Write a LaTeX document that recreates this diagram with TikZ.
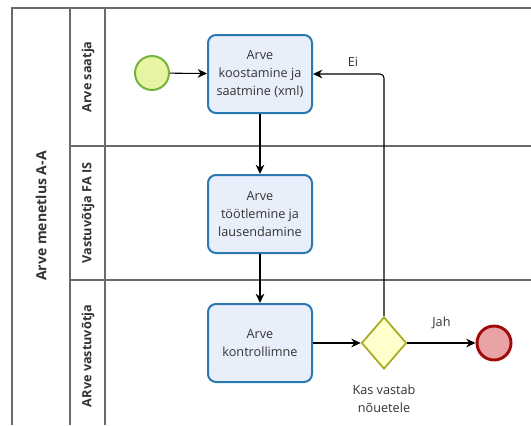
\documentclass[tikz,border=0pt]{standalone}
\usepackage{fontspec}
\setmainfont{Open Sans}
\usetikzlibrary{shapes.geometric,arrows.meta}
\definecolor{poolline}{HTML}{6A6A6A}
\definecolor{taskfill}{HTML}{E9EEFB}
\definecolor{taskdraw}{HTML}{2A78B0}
\definecolor{startfill}{HTML}{E7F4A2}
\definecolor{startdraw}{HTML}{72B33E}
\definecolor{gwfill}{HTML}{FFFFCC}
\definecolor{gwdraw}{HTML}{AAAA22}
\definecolor{endfill}{HTML}{E9A3A6}
\definecolor{enddraw}{HTML}{A00A0A}
\definecolor{txt}{HTML}{333333}
\tikzset{
  poolrule/.style={draw=poolline, line width=1.1pt},
  lanelabel/.style={rotate=90, font=\fontsize{9.5}{11}\selectfont\bfseries, text=txt},
  poollabel/.style={rotate=90, font=\fontsize{10.5}{12}\selectfont\bfseries, text=txt},
  task/.style={draw=taskdraw, fill=taskfill, line width=1.5pt, rounded corners=6pt,
    minimum width=78pt, minimum height=58.5pt, align=center, text=txt,
    font=\fontsize{9.5}{13.5}\selectfont, inner sep=1pt},
  startev/.style={circle, draw=startdraw, fill=startfill, line width=1.5pt, minimum size=25.5pt, inner sep=0pt},
  endev/.style={circle, draw=enddraw, fill=endfill, line width=2.2pt, minimum size=25.5pt, inner sep=0pt},
  gateway/.style={diamond, draw=gwdraw, fill=gwfill, line width=1.3pt, minimum width=33.75pt, minimum height=39pt, inner sep=0pt},
  flow/.style={draw=black, line width=0.8pt, -{Stealth[length=7pt,width=6.5pt]}},
  flowlabel/.style={font=\fontsize{9.5}{13.5}\selectfont, text=txt, align=center},
}
\begin{document}
\begin{tikzpicture}[x=0.75pt, y=-0.75pt]
  \useasboundingbox (0,0) rectangle (531,425);
  \fill[white] (0,0) rectangle (531,425);
  % pool and lanes
  \draw[poolrule] (12,425) -- (12,8) -- (531,8);
  \draw[poolrule] (70,8) -- (70,425);
  \draw[poolrule] (105,8) -- (105,425);
  \draw[poolrule] (70,146) -- (531,146);
  \draw[poolrule] (70,280) -- (531,280);
  \node[poollabel] (pool) at (41,216) {Arve menetlus A-A};
  \node[lanelabel] (lane1) at (88,77) {Arve saatja};
  \node[lanelabel] (lane2) at (88,213) {Vastuvõtja FA IS};
  \node[lanelabel] (lane3) at (88,356) {ARve vastuvõtja};
  % flow objects
  \node[startev] (start) at (152,73) {};
  \node[task] (t1) at (260,74) {Arve\\koostamine ja\\saatmine (xml)};
  \node[task] (t2) at (260,214) {Arve\\töötlemine ja\\lausendamine};
  \node[task] (t3) at (260,343) {Arve\\kontrollimne};
  \node[gateway] (gw) at (384,343) {};
  \node[endev] (end) at (494,343) {};
  \node[flowlabel, anchor=north] (gwlabel) at (384,380) {Kas vastab\\nõuetele};
  % sequence flows
  \draw[flow] (start) -- (t1);
  \draw[flow] (t1) -- (t2);
  \draw[flow] (t2) -- (t3);
  \draw[flow] (t3) -- (gw);
  \draw[flow] (gw) -- node[flowlabel, above=7pt] (jah) {Jah} (end);
  \draw[flow, rounded corners=3pt] (gw.north) |- (t1.east);
  \node[flowlabel] (ei) at (353,62) {Ei};
\end{tikzpicture}
\end{document}
